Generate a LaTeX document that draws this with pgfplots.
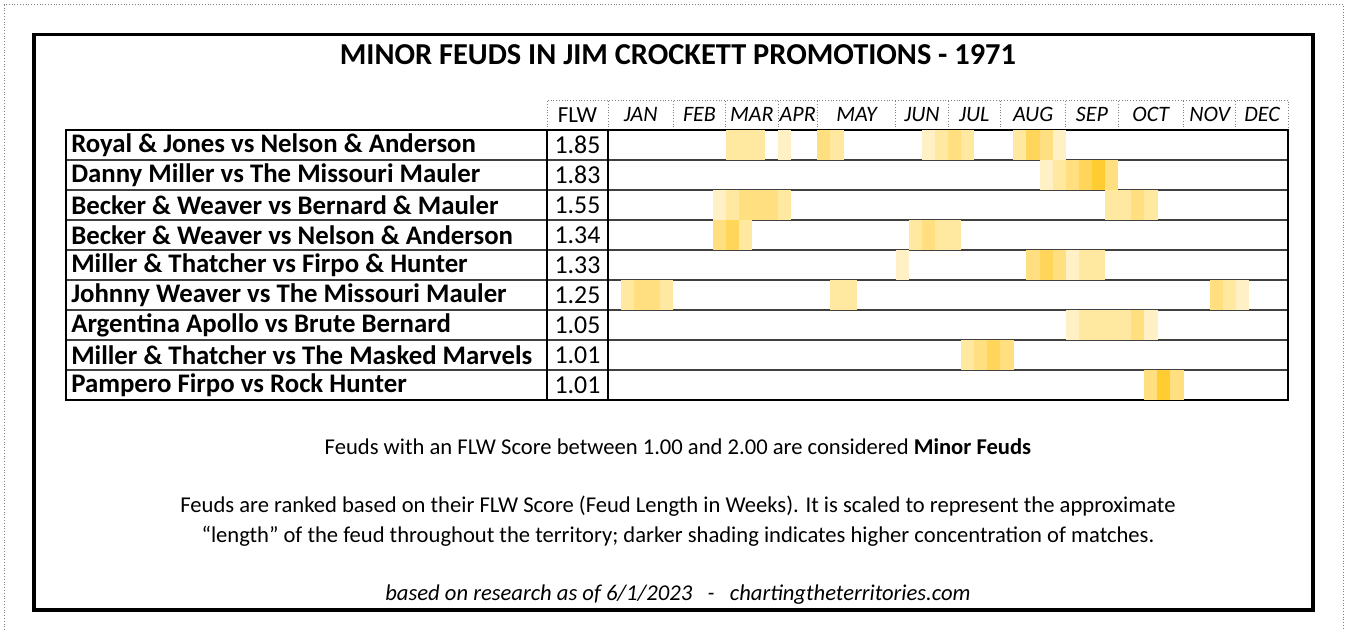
\documentclass[border=0pt]{standalone}
\usepackage{pgfplots}
\pgfplotsset{compat=1.18}
\usepackage{fontspec}
\setmainfont{Carlito}

% one week x one row cell
\pgfdeclareplotmark{cell}{%
  \pgfpathrectangle{\pgfpoint{-3.32pt}{-7.5pt}}{\pgfpoint{6.64pt}{15pt}}%
  \pgfusepathqfill}

% w = week of the year (0-51), r = row (9 = top), c = shading level
\pgfplotstableread{
w r c
9 9 2
10 9 2
11 9 2
13 9 1
16 9 3
17 9 2
24 9 1
25 9 2
26 9 3
27 9 2
31 9 2
32 9 4
33 9 3
34 9 1
33 8 1
34 8 2
35 8 3
36 8 4
37 8 5
38 8 3
8 7 1
9 7 2
10 7 3
11 7 3
12 7 3
13 7 2
38 7 2
39 7 2
40 7 3
41 7 2
8 6 3
9 6 4
10 6 2
23 6 2
24 6 3
25 6 2
26 6 2
22 5 1
32 5 3
33 5 4
34 5 3
35 5 1
36 5 2
37 5 2
1 4 2
2 4 3
3 4 3
4 4 2
17 4 2
18 4 2
46 4 3
47 4 2
48 4 1
35 3 1
36 3 2
37 3 2
38 3 2
39 3 2
40 3 3
41 3 1
27 2 2
28 2 3
29 2 4
30 2 3
41 1 3
42 1 5
43 1 3
}\feuds

\begin{document}
\begin{tikzpicture}
\begin{axis}[
  x=6.54pt, y=15pt,
  xmin=-0.5, xmax=51.5, ymin=0.5, ymax=9.5,
  hide axis, clip=false,
  colormap={feud}{rgb255=(255,240,198) rgb255=(255,232,160) rgb255=(255,223,128) rgb255=(255,214,90) rgb255=(255,204,50)},
  point meta min=1, point meta max=5,
]
\addplot[scatter, only marks, mark=cell, point meta=explicit,
  scatter/use mapped color={draw=none, fill=mapped color}]
  table[x=w, y=r, meta=c] {\feuds};

% page and frames
\path (axis cs:-46.98,13.83) rectangle (axis cs:56.07,-7.17);
\draw[gray, densely dotted] (axis cs:-46.68,-7.17) -- (axis cs:-46.68,13.67) -- (axis cs:55.69,13.67) -- (axis cs:55.69,-7.17);
\draw[line width=1.6pt] (axis cs:-44.38,12.67) rectangle (axis cs:53.4,-6.5);

% header cells
\draw[gray, densely dotted] (axis cs:-5.16,9.5) -- (axis cs:-5.16,10.5) -- (axis cs:51.5,10.5) -- (axis cs:51.5,9.5);
\pgfplotsinvokeforeach{-0.5,4.5,8.5,12.5,15.5,21.5,25.5,29.5,34.5,38.5,43.5,47.5}{
  \draw[gray, densely dotted] (axis cs:#1,9.5) -- (axis cs:#1,10.5);
}

% table lines
\pgfplotsinvokeforeach{1.5,2.5,3.5,4.5,5.5,6.5,7.5,8.5}{
  \draw[line width=1pt, black!75] (axis cs:-41.94,#1) -- (axis cs:51.5,#1);
}
\draw[line width=0.9pt] (axis cs:-41.94,0.5) rectangle (axis cs:51.5,9.5);
\draw[line width=0.9pt] (axis cs:-5.16,0.5) -- (axis cs:-5.16,9.5);
\draw[line width=0.9pt] (axis cs:-0.5,0.5) -- (axis cs:-0.5,9.5);

% title
\node[font=\bfseries\fontsize{15.2}{18}\selectfont] at (axis cs:4.85,12.0)
  {MINOR FEUDS IN JIM CROCKETT PROMOTIONS - 1971};

% header labels
\begin{scope}[every node/.style={font=\itshape\fontsize{11}{13}\selectfont}]
\node at (axis cs:2,10) {JAN};
\node at (axis cs:6.5,10) {FEB};
\node at (axis cs:10.5,10) {MAR};
\node at (axis cs:14,10) {APR};
\node at (axis cs:18.5,10) {MAY};
\node at (axis cs:23.5,10) {JUN};
\node at (axis cs:27.5,10) {JUL};
\node at (axis cs:32,10) {AUG};
\node at (axis cs:36.5,10) {SEP};
\node at (axis cs:41,10) {OCT};
\node at (axis cs:45.5,10) {NOV};
\node at (axis cs:49.5,10) {DEC};
\end{scope}
\node[font=\fontsize{11.5}{13}\selectfont] at (axis cs:-2.83,10) {FLW};

% feud names
\begin{scope}[every node/.style={anchor=west, inner xsep=0pt, font=\bfseries\fontsize{13.4}{16}\selectfont}]
\node at (axis cs:-41.56,9) {Royal \& Jones vs Nelson \& Anderson};
\node at (axis cs:-41.56,8) {Danny Miller vs The Missouri Mauler};
\node at (axis cs:-41.56,7) {Becker \& Weaver vs Bernard \& Mauler};
\node at (axis cs:-41.56,6) {Becker \& Weaver vs Nelson \& Anderson};
\node at (axis cs:-41.56,5) {Miller \& Thatcher vs Firpo \& Hunter};
\node at (axis cs:-41.56,4) {Johnny Weaver vs The Missouri Mauler};
\node at (axis cs:-41.56,3) {Argentina Apollo vs Brute Bernard};
\node at (axis cs:-41.56,2) {Miller \& Thatcher vs The Masked Marvels};
\node at (axis cs:-41.56,1) {Pampero Firpo vs Rock Hunter};
\end{scope}

% FLW scores
\begin{scope}[every node/.style={font=\fontsize{12.9}{15}\selectfont}]
\node at (axis cs:-2.83,9) {1.85};
\node at (axis cs:-2.83,8) {1.83};
\node at (axis cs:-2.83,7) {1.55};
\node at (axis cs:-2.83,6) {1.34};
\node at (axis cs:-2.83,5) {1.33};
\node at (axis cs:-2.83,4) {1.25};
\node at (axis cs:-2.83,3) {1.05};
\node at (axis cs:-2.83,2) {1.01};
\node at (axis cs:-2.83,1) {1.01};
\end{scope}

% notes
\begin{scope}[every node/.style={font=\fontsize{11.3}{13}\selectfont}]
\node at (axis cs:4.85,-1.07) {Feuds with an FLW Score between 1.00 and 2.00 are considered \textbf{Minor Feuds}};
\node at (axis cs:4.85,-3.03) {Feuds are ranked based on their FLW Score (Feud Length in Weeks). It is scaled to represent the approximate};
\node at (axis cs:4.85,-4.03) {“length” of the feud throughout the territory; darker shading indicates higher concentration of matches.};
\node[font=\itshape\fontsize{11.3}{13}\selectfont] at (axis cs:4.85,-6.0) {based on research as of 6/1/2023 \ \ - \ \ chartingtheterritories.com};
\end{scope}
\end{axis}
\end{tikzpicture}
\end{document}
